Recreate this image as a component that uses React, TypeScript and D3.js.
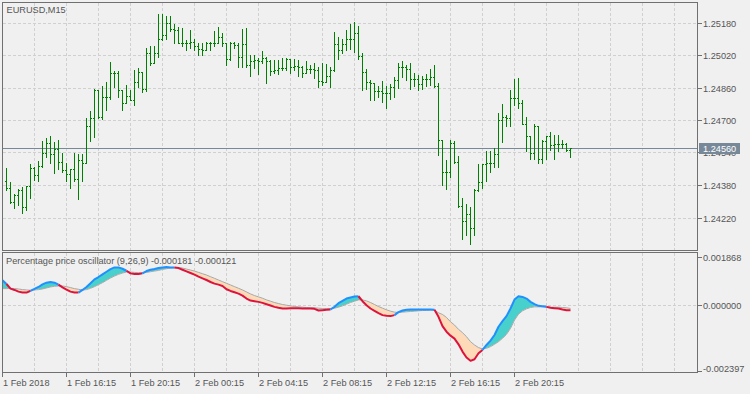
import React from "react";
import * as d3 from "d3";

const W = 750;
const H = 394;

const symbolTitle = "EURUSD,M15";
const oscTitle = "Percentage price oscillator (9,26,9) -0.000181 -0.000121";

const timeLabels = ["1 Feb 2018", "1 Feb 16:15", "1 Feb 20:15", "2 Feb 00:15", "2 Feb 04:15", "2 Feb 08:15", "2 Feb 12:15", "2 Feb 16:15", "2 Feb 20:15"];
const timeLabelBars = [0, 16, 32, 48, 64, 80, 96, 112, 128];
const gridBars = [8, 16, 24, 32, 40, 48, 56, 64, 72, 80, 88, 96, 104, 112, 120, 128, 136, 144, 152, 160, 168];

const priceTicks = [1.2518, 1.2502, 1.2486, 1.247, 1.2454, 1.2438, 1.2422];
const lastPrice = 1.2456;

const oscTicks = [0.001868, 0.0, -0.002397];
const oscTickLabels = ["0.001868", "0.000000", "-0.002397"];

// price bars, bar index 1..142 (bar 0 sits under the left frame)
const firstBar = 1;
const barOpen = [
  1.24401, 1.24363, 1.24297, 1.24329, 1.24353, 1.24274, 1.24373, 1.24465, 1.24427, 1.24475,
  1.24537, 1.24588, 1.24531, 1.24555, 1.24491, 1.24452, 1.24432, 1.24457, 1.24409, 1.24503,
  1.24486, 1.2467, 1.2471, 1.24848, 1.24713, 1.24812, 1.24812, 1.2493, 1.2493, 1.24848,
  1.24782, 1.24818, 1.24799, 1.24889, 1.24938, 1.24851, 1.25029, 1.24983, 1.25029, 1.25098,
  1.25119, 1.25177, 1.25147, 1.25144, 1.25081, 1.25078, 1.25078, 1.25086, 1.25065, 1.25049,
  1.25045, 1.25081, 1.25081, 1.25078, 1.25111, 1.25078, 1.24999, 1.25078, 1.2507, 1.25012,
  1.25075, 1.24971, 1.24988, 1.24993, 1.24988, 1.25004, 1.24988, 1.24943, 1.24947, 1.24955,
  1.24955, 1.24999, 1.24963, 1.24968, 1.24963, 1.24933, 1.2495, 1.2495, 1.24947, 1.24894,
  1.24889, 1.24917, 1.24947, 1.25075, 1.25045, 1.25075, 1.25098, 1.25098, 1.25128, 1.25016,
  1.24938, 1.24889, 1.24881, 1.24843, 1.24845, 1.24832, 1.24832, 1.24861, 1.24897, 1.24963,
  1.24963, 1.2495, 1.24901, 1.24901, 1.24878, 1.24901, 1.24901, 1.24911, 1.24868, 1.246,
  1.24445, 1.24442, 1.24585, 1.24491, 1.24276, 1.24203, 1.24236, 1.24166, 1.24355, 1.24396,
  1.24481, 1.24486, 1.24486, 1.24532, 1.247, 1.24715, 1.2471, 1.24809, 1.24809, 1.24784,
  1.2468, 1.24621, 1.24537, 1.2467, 1.24508, 1.24598, 1.24621, 1.24577, 1.24582, 1.24582,
  1.24582, 1.24552,
];
const barHigh = [
  1.24462, 1.24394, 1.24335, 1.24358, 1.24371, 1.24376, 1.24483, 1.2447, 1.24498, 1.24595,
  1.2461, 1.24623, 1.2459, 1.24601, 1.24536, 1.24486, 1.24458, 1.24537, 1.24532, 1.24531,
  1.24708, 1.24746, 1.24851, 1.24848, 1.24868, 1.24887, 1.24986, 1.24943, 1.2494, 1.24848,
  1.24873, 1.24848, 1.24947, 1.24955, 1.24938, 1.25054, 1.25062, 1.25062, 1.25223, 1.25223,
  1.25213, 1.25213, 1.25174, 1.2516, 1.25152, 1.25095, 1.25141, 1.25098, 1.25081, 1.25078,
  1.25086, 1.25086, 1.25136, 1.2516, 1.25128, 1.25078, 1.25086, 1.25086, 1.25078, 1.25147,
  1.25152, 1.25021, 1.25021, 1.25004, 1.2504, 1.25009, 1.24995, 1.24996, 1.24993, 1.25004,
  1.25004, 1.25002, 1.24999, 1.24993, 1.24966, 1.24988, 1.24971, 1.2498, 1.24963, 1.2498,
  1.24975, 1.24963, 1.25134, 1.25111, 1.25098, 1.25144, 1.25172, 1.25182, 1.25164, 1.25032,
  1.2495, 1.24897, 1.24884, 1.24868, 1.24894, 1.24868, 1.24878, 1.24911, 1.2498, 1.24991,
  1.2497, 1.24983, 1.2493, 1.24922, 1.24917, 1.24927, 1.24952, 1.24971, 1.24881, 1.246,
  1.24503, 1.24601, 1.24598, 1.24522, 1.24314, 1.24286, 1.24272, 1.24358, 1.24481, 1.24481,
  1.24547, 1.24547, 1.2456, 1.24735, 1.24779, 1.24725, 1.24848, 1.24902, 1.24907, 1.24799,
  1.24715, 1.24621, 1.2468, 1.24672, 1.24601, 1.24623, 1.24642, 1.24626, 1.24626, 1.24601,
  1.24585, 1.2456,
];
const barLow = [
  1.24355, 1.24289, 1.24269, 1.24281, 1.24243, 1.24256, 1.24317, 1.24404, 1.24401, 1.2447,
  1.24516, 1.24489, 1.2444, 1.24457, 1.24445, 1.24401, 1.24366, 1.24398, 1.24312, 1.24401,
  1.24486, 1.24598, 1.24618, 1.24708, 1.24705, 1.24749, 1.24805, 1.24861, 1.24812, 1.24749,
  1.24782, 1.24799, 1.24774, 1.24861, 1.2484, 1.24845, 1.24971, 1.2498, 1.25012, 1.25095,
  1.25098, 1.25136, 1.25078, 1.25078, 1.25062, 1.25045, 1.25054, 1.25045, 1.25021, 1.25021,
  1.25045, 1.25045, 1.25062, 1.25078, 1.25062, 1.24971, 1.24995, 1.25054, 1.24963, 1.24963,
  1.24963, 1.24917, 1.24955, 1.24927, 1.2498, 1.24884, 1.24922, 1.24933, 1.24927, 1.24947,
  1.24947, 1.24933, 1.24947, 1.24917, 1.24911, 1.24933, 1.2493, 1.24906, 1.24864, 1.24873,
  1.24889, 1.24864, 1.24943, 1.24999, 1.25029, 1.25045, 1.25049, 1.25037, 1.24999, 1.24848,
  1.24851, 1.24799, 1.24799, 1.24815, 1.2479, 1.24758, 1.24802, 1.24812, 1.24856, 1.24914,
  1.24897, 1.24851, 1.24868, 1.24848, 1.24851, 1.24868, 1.24873, 1.24861, 1.24527, 1.24379,
  1.24358, 1.24417, 1.24489, 1.24272, 1.24116, 1.24133, 1.24088, 1.24133, 1.24351, 1.24363,
  1.24399, 1.24445, 1.2447, 1.2447, 1.24593, 1.2467, 1.2467, 1.24774, 1.24759, 1.2468,
  1.24549, 1.24508, 1.24508, 1.24488, 1.24489, 1.24506, 1.24552, 1.24506, 1.24549, 1.2456,
  1.24549, 1.24516,
];
const barClose = [
  1.24363, 1.24297, 1.24329, 1.24353, 1.24274, 1.24373, 1.24465, 1.24427, 1.24475, 1.24537,
  1.24588, 1.24531, 1.24555, 1.24491, 1.24452, 1.24432, 1.24457, 1.24409, 1.24503, 1.24486,
  1.2467, 1.2471, 1.24848, 1.24713, 1.24812, 1.24812, 1.2493, 1.2493, 1.24848, 1.24782,
  1.24818, 1.24799, 1.24889, 1.24938, 1.24851, 1.25029, 1.24983, 1.25029, 1.25098, 1.25119,
  1.25177, 1.25147, 1.25144, 1.25081, 1.25078, 1.25078, 1.25086, 1.25065, 1.25049, 1.25045,
  1.25081, 1.25081, 1.25078, 1.25111, 1.25078, 1.24999, 1.25078, 1.2507, 1.25012, 1.25075,
  1.24971, 1.24988, 1.24993, 1.24988, 1.25004, 1.24988, 1.24943, 1.24947, 1.24955, 1.24955,
  1.24999, 1.24963, 1.24968, 1.24963, 1.24933, 1.2495, 1.2495, 1.24947, 1.24894, 1.24889,
  1.24917, 1.24947, 1.25075, 1.25045, 1.25075, 1.25098, 1.25098, 1.25128, 1.25016, 1.24938,
  1.24889, 1.24881, 1.24843, 1.24845, 1.24832, 1.24832, 1.24861, 1.24897, 1.24963, 1.24963,
  1.2495, 1.24901, 1.24901, 1.24878, 1.24901, 1.24901, 1.24911, 1.24868, 1.246, 1.24445,
  1.24442, 1.24585, 1.24491, 1.24276, 1.24203, 1.24236, 1.24166, 1.24355, 1.24396, 1.24481,
  1.24486, 1.24486, 1.24532, 1.247, 1.24715, 1.2471, 1.24809, 1.24809, 1.24784, 1.2468,
  1.24621, 1.24537, 1.2467, 1.24508, 1.24598, 1.24621, 1.24577, 1.24582, 1.24582, 1.24582,
  1.24552, 1.2456,
];

// oscillator, bar index 0..142
const ppo = [
  0.000879, 0.000749, 0.000584, 0.000537, 0.000478, 0.000443, 0.000443, 0.000502, 0.000572, 0.000643,
  0.000737, 0.000796, 0.00082, 0.000796, 0.000726, 0.000631, 0.000549, 0.000478, 0.000443, 0.000443,
  0.000537, 0.000643, 0.000773, 0.000914, 0.000996, 0.001091, 0.001185, 0.001279, 0.001338, 0.001338,
  0.001291, 0.00122, 0.001126, 0.001102, 0.001102, 0.001126, 0.001208, 0.001256, 0.001279, 0.001314,
  0.001338, 0.00135, 0.001338, 0.001338, 0.001314, 0.001256, 0.001197, 0.001138, 0.001079, 0.001008,
  0.000949, 0.00089, 0.00082, 0.000761, 0.000726, 0.000678, 0.000561, 0.000502, 0.000455, 0.000408,
  0.000337, 0.000231, 0.00016, 0.000137, 0.000113, 0.000078, 0.000031, -0.000016, -0.000064, -0.000099,
  -0.000122, -0.000122, -0.000111, -0.000111, -0.000111, -0.000122, -0.000122, -0.000122, -0.000134, -0.000193,
  -0.000181, -0.00017, -0.000158, -0.000064, 0.000066, 0.000148, 0.000231, 0.000266, 0.000302, 0.000313,
  0.000137, -0.000005, -0.000122, -0.000205, -0.000287, -0.000358, -0.000382, -0.000393, -0.000358, -0.000252,
  -0.000193, -0.00017, -0.000158, -0.000158, -0.000158, -0.000158, -0.000158, -0.000158, -0.00017, -0.000417,
  -0.000747, -0.000947, -0.001088, -0.001194, -0.001395, -0.001654, -0.001866, -0.001983, -0.001925, -0.001713,
  -0.001595, -0.001418, -0.001265, -0.001065, -0.00077, -0.00057, -0.000393, -0.000122, 0.000196, 0.000313,
  0.00029, 0.000231, 0.000113, 0.000031, -0.000028, -0.00004, -0.000064, -0.000099, -0.000111, -0.000122,
  -0.000158, -0.000181, -0.000181,
];
const ppoSignal = [
  0.000584, 0.000584, 0.000596, 0.000584, 0.000572, 0.000549, 0.000537, 0.000525, 0.000537, 0.000549,
  0.000572, 0.000608, 0.000643, 0.000667, 0.000678, 0.000678, 0.000655, 0.00062, 0.000584, 0.000561,
  0.000531, 0.000549, 0.000596, 0.000655, 0.000726, 0.000796, 0.000879, 0.000961, 0.001032, 0.001091,
  0.001138, 0.001173, 0.001173, 0.001161, 0.00115, 0.00115, 0.001161, 0.001185, 0.001208, 0.001232,
  0.001267, 0.001291, 0.001314, 0.001326, 0.001338, 0.001314, 0.001279, 0.001244, 0.001208, 0.001161,
  0.001114, 0.001067, 0.001008, 0.000949, 0.00089, 0.000832, 0.000773, 0.000714, 0.000655, 0.000596,
  0.000537, 0.000466, 0.000396, 0.000337, 0.00029, 0.000243, 0.000184, 0.000137, 0.00009, 0.000054,
  0.000019, -0.000005, -0.000028, -0.000052, -0.000064, -0.000075, -0.000087, -0.000099, -0.000099, -0.000111,
  -0.000122, -0.000122, -0.000122, -0.000111, -0.000075, -0.000028, 0.000031, 0.00009, 0.000137, 0.000184,
  0.000184, 0.000148, 0.00009, 0.000019, -0.000052, -0.000111, -0.00017, -0.000217, -0.000252, -0.000264,
  -0.000252, -0.00024, -0.000228, -0.000217, -0.000205, -0.000193, -0.000193, -0.000181, -0.000181, -0.000276,
  -0.000334, -0.00044, -0.000594, -0.000711, -0.000864, -0.000982, -0.001124, -0.0013, -0.001418, -0.001512,
  -0.001559, -0.001536, -0.001477, -0.001395, -0.0013, -0.001182, -0.001041, -0.000829, -0.000535, -0.000323,
  -0.000205, -0.000134, -0.000087, -0.000064, -0.000064, -0.000064, -0.00007, -0.000075, -0.000075, -0.000075,
  -0.000087, -0.000099, -0.000121,
];

const BG = "#f0f0f0";
const FRAME = "#707070";
const GRID = "#d0d0d0";
const TEXT = "#555555";
const BAR = "#008000";
const FONT = "'Liberation Sans', Arial, sans-serif";

export default function App() {
  const xS = d3.scaleLinear().domain([0, 173.75]).range([2.5, 697.5]);
  const yP = d3.scaleLinear().domain([1.2422, 1.2518]).range([217.5, 22.5]);
  const yO = d3.scaleLinear().domain([-0.002397, 0.001868]).range([372.5, 252.5]);

  const idx = ppo.map((_, i) => i);
  const betweenArea = d3
    .area<number>()
    .x((i) => xS(i))
    .y0((i) => yO(ppoSignal[i]))
    .y1((i) => yO(ppo[i]));
  const aboveClip = d3
    .area<number>()
    .x((i) => xS(i))
    .y0(252)
    .y1((i) => yO(ppoSignal[i]));
  const belowClip = d3
    .area<number>()
    .x((i) => xS(i))
    .y0((i) => yO(ppoSignal[i]))
    .y1(374);
  const sigLine = d3
    .line<number>()
    .x((i) => xS(i))
    .y((i) => yO(ppoSignal[i]));
  const ptLine = d3.line<[number, number]>();

  // split ppo line into runs coloured by ppo vs signal at segment end
  const runs: { up: boolean; pts: [number, number][] }[] = [];
  let cur: { up: boolean; pts: [number, number][] } | null = null;
  for (let k = 1; k < ppo.length; k++) {
    const up = ppo[k] >= ppoSignal[k];
    if (!cur || cur.up !== up) {
      cur = { up, pts: [[xS(k - 1), yO(ppo[k - 1])]] };
      runs.push(cur);
    }
    cur.pts.push([xS(k), yO(ppo[k])]);
  }

  const lastY = Math.round(yP(lastPrice)) + 0.5;

  return (
    <svg
      width={W}
      height={H}
      style={{ position: "absolute", left: 0, top: 0, display: "block" }}
      fontFamily={FONT}
    >
      <defs>
        <clipPath id="above">
          <path d={aboveClip(idx) || ""} />
        </clipPath>
        <clipPath id="below">
          <path d={belowClip(idx) || ""} />
        </clipPath>
        <clipPath id="oscPane">
          <rect x={3} y={253} width={694} height={119} />
        </clipPath>
      </defs>
      <rect x={0} y={0} width={W} height={H} fill={BG} />

      {/* grid - price pane */}
      {gridBars.map((b) => (
        <line key={"gv" + b} x1={xS(b)} x2={xS(b)} y1={3} y2={250} stroke={GRID} strokeDasharray="3,2" />
      ))}
      {priceTicks.map((t) => {
        const y = Math.round(yP(t)) + 0.5;
        return <line key={"gh" + t} x1={3} x2={697} y1={y} y2={y} stroke={GRID} strokeDasharray="3,2" />;
      })}
      {/* grid - oscillator pane */}
      {gridBars.map((b) => (
        <line key={"ov" + b} x1={xS(b)} x2={xS(b)} y1={253} y2={372} stroke={GRID} strokeDasharray="3,2" />
      ))}
      <line x1={3} x2={697} y1={Math.round(yO(0)) + 0.5} y2={Math.round(yO(0)) + 0.5} stroke={GRID} strokeDasharray="3,2" />

      {/* last price line */}
      <line x1={3} x2={697} y1={lastY} y2={lastY} stroke="#778899" strokeWidth={1} />

      {/* OHLC bars */}
      {barHigh.map((h, i) => {
        const k = i + firstBar;
        const cx = xS(k);
        const yh = Math.round(yP(h));
        const yl = Math.round(yP(barLow[i]));
        const yo = Math.round(yP(barOpen[i]));
        const yc = Math.round(yP(barClose[i]));
        return (
          <g key={"b" + k} fill={BAR}>
            <rect x={cx - 0.5} y={yh} width={1} height={yl - yh + 1} />
            <rect x={cx - 1.5} y={yo} width={1} height={1} />
            <rect x={cx + 0.5} y={yc} width={1} height={1} />
          </g>
        );
      })}

      {/* oscillator */}
      <g clipPath="url(#oscPane)">
        <path d={betweenArea(idx) || ""} fill="#48D1CC" clipPath="url(#above)" />
        <path d={betweenArea(idx) || ""} fill="#FFDAB9" clipPath="url(#below)" />
        <path d={sigLine(idx) || ""} fill="none" stroke="#A9A9A9" strokeWidth={1} />
        {runs.map((r, i) => (
          <path
            key={"r" + i}
            d={ptLine(r.pts) || ""}
            fill="none"
            stroke={r.up ? "#1E90FF" : "#DC143C"}
            strokeWidth={2}
            strokeLinejoin="round"
          />
        ))}
      </g>

      {/* frames */}
      <rect x={2.5} y={2.5} width={695} height={248} fill="none" stroke={FRAME} />
      <rect x={2.5} y={252.5} width={695} height={120} fill="none" stroke={FRAME} />

      {/* titles */}
      <text x={6.5} y={12.5} fontSize={9.2} fill={TEXT}>{symbolTitle}</text>
      <text x={6} y={263.5} fontSize={9.2} fill={TEXT}>{oscTitle}</text>

      {/* price axis */}
      {priceTicks.map((t) => {
        const y = Math.round(yP(t)) + 0.5;
        return (
          <g key={"pt" + t}>
            <line x1={698} x2={702} y1={y} y2={y} stroke={FRAME} />
            <text x={703} y={y + 3.5} fontSize={9.2} fill={TEXT}>{t.toFixed(5)}</text>
          </g>
        );
      })}
      <rect x={699} y={143} width={41} height={11} fill="#778899" />
      <text x={703} y={lastY + 3.5} fontSize={9.2} fill="#ffffff">{lastPrice.toFixed(5)}</text>

      {/* oscillator axis */}
      {oscTicks.map((t, i) => {
        const yc = i === 0 ? 257.5 : i === 2 ? 368.5 : Math.round(yO(t)) + 0.5;
        const ty = i === 2 ? 371.5 : yc;
        return (
          <g key={"ot" + i}>
            <line x1={698} x2={702} y1={ty} y2={ty} stroke={FRAME} />
            <text x={703} y={yc + 3.5} fontSize={9.2} fill={TEXT}>{oscTickLabels[i]}</text>
          </g>
        );
      })}

      {/* time axis */}
      {timeLabelBars.map((b, i) => (
        <g key={"tl" + b}>
          <line x1={xS(b)} x2={xS(b)} y1={373} y2={377} stroke={FRAME} />
          <text x={xS(b) + 0.5} y={385.5} fontSize={9.2} fill={TEXT}>{timeLabels[i]}</text>
        </g>
      ))}
    </svg>
  );
}
